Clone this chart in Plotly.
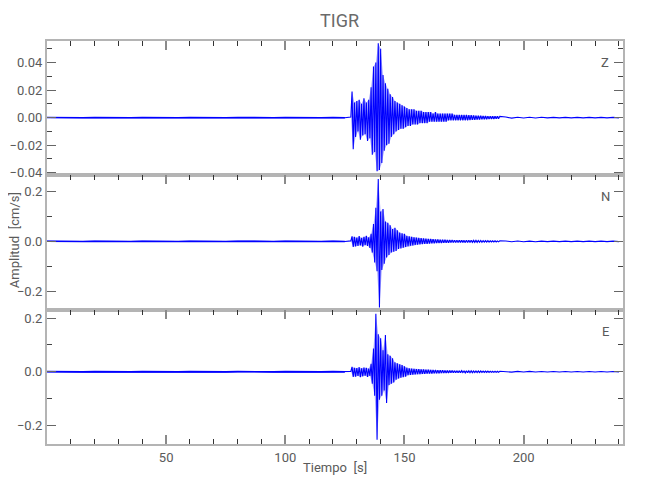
import numpy as np
import plotly.graph_objects as go
from plotly.subplots import make_subplots

station = "TIGR"
components = ["Z", "N", "E"]
x_title = "Tiempo\u2002[s]"
y_title = "Amplitud\u2002[cm/s]"

# sampling grids (seconds)
pre_t0, pre_dt = 0.0, 5.0
evt_t0, evt_dt = 127.5, 0.5
post_t0, post_dt = 192.5, 2.5

# ---- Z component (cm/s) ----
z_pre = [0.0001, -0.0001, 0.0001, -0.0001, 0.0001, -0.0001, 0.0001, -0.0001, 0.0001, -0.0001,
         0.0001, -0.0001, 0.0001, -0.0001, 0.0001, -0.0001, 0.0001, -0.0001, 0.0001, -0.0001,
         0.0001, -0.0001, 0.0001, -0.0001, 0.0001, -0.0001]
z_evt = [0.0005, 0.019, -0.023, 0.011, -0.014, 0.012, -0.010, 0.013, -0.016, 0.010,
         -0.013, 0.014, -0.012, 0.011, -0.017, 0.013, -0.015, 0.022, -0.027, 0.037,
         -0.025, 0.040, -0.039, 0.054, -0.038, 0.050, -0.033, 0.031, -0.024, 0.025,
         -0.020, 0.021, -0.019, 0.017, -0.014, 0.015, -0.012, 0.012, -0.010, 0.011,
         -0.009, 0.010, -0.008, 0.009, -0.008, 0.008, -0.007, 0.007, -0.006, 0.006,
         -0.006, 0.006, -0.005, 0.006, -0.005, 0.005, -0.005, 0.005, -0.004, 0.005,
         -0.004, 0.004, -0.004, 0.004, -0.004, 0.004, -0.003, 0.004, -0.003, 0.003,
         -0.003, 0.004, -0.003, 0.003, -0.003, 0.003, -0.003, 0.003, -0.003, 0.003,
         -0.003, 0.003, -0.002, 0.003, -0.002, 0.003, -0.002, 0.002, -0.002, 0.002,
         -0.002, 0.002, -0.002, 0.002, -0.002, 0.002,
         -0.002, 0.002, -0.002, 0.0018, -0.0018, 0.0018, -0.0016, 0.0016, -0.0016, 0.0015,
         -0.0015, 0.0014, -0.0014, 0.0014, -0.0013, 0.0013, -0.0012, 0.0012, -0.0012, 0.0011,
         -0.0011, 0.0011, -0.0010, 0.0010, -0.0010, 0.0010, -0.0009, 0.0009, -0.0009, 0.0009]
z_post = [0.0004, -0.0004, 0.0003, -0.0003, 0.0003, -0.0003, 0.0003, -0.0002, 0.0002, -0.0002,
          0.0002, -0.0002, 0.0002, -0.0002, 0.0002, -0.0002, 0.0002, -0.0002, 0.0002, -0.0002]

# ---- N component (cm/s) ----
n_pre = [0.0006, -0.0006, 0.0004, -0.0006, 0.0006, -0.0004, 0.0006, -0.0006, 0.0004, -0.0006,
         0.0006, -0.0006, 0.0004, -0.0006, 0.0006, -0.0004, 0.0006, -0.0006, 0.0006, -0.0004,
         0.0006, -0.0006, 0.0004, -0.0006, 0.0006, -0.0006]
n_evt = [0.002, 0.020, -0.022, 0.018, -0.020, 0.015, -0.018, 0.021, -0.016, 0.014,
         -0.021, 0.018, -0.015, 0.022, -0.018, 0.016, -0.026, 0.030, -0.045, 0.070,
         -0.085, 0.135, -0.120, 0.250, -0.265, 0.120, -0.115, 0.130, -0.090, 0.080,
         -0.065, 0.075, -0.055, 0.065, -0.045, 0.050, -0.042, 0.055, -0.038, 0.045,
         -0.030, 0.035, -0.028, 0.032, -0.025, 0.030, -0.022, 0.022, -0.019, 0.020,
         -0.017, 0.018, -0.016, 0.016, -0.014, 0.015, -0.013, 0.014, -0.012, 0.013,
         -0.011, 0.012, -0.010, 0.011, -0.010, 0.010, -0.009, 0.010, -0.008, 0.009,
         -0.008, 0.008, -0.007, 0.008, -0.007, 0.007, -0.007, 0.007, -0.006, 0.007,
         -0.006, 0.006, -0.006, 0.006, -0.005, 0.006, -0.005, 0.005, -0.005, 0.005,
         -0.005, 0.005, -0.004, 0.005, -0.004, 0.004,
         -0.005, 0.005, -0.005, 0.0045, -0.0045, 0.0045, -0.004, 0.004, -0.004, 0.004,
         -0.004, 0.0035, -0.0035, 0.0035, -0.0035, 0.003, -0.003, 0.003, -0.003, 0.003,
         -0.003, 0.0025, -0.0025, 0.0025, -0.0025, 0.0025, -0.0025, 0.002, -0.002, 0.002]
n_post = [0.0015, -0.0015, 0.0015, -0.0012, 0.0012, -0.0012, 0.0010, -0.0010, 0.0010, -0.0010,
          0.0010, -0.0010, 0.0010, -0.0010, 0.0010, -0.0010, 0.0010, -0.0010, 0.0010, -0.0010]

# ---- E component (cm/s) ----
e_pre = [0.0006, -0.0006, 0.0006, -0.0004, 0.0006, -0.0006, 0.0004, -0.0006, 0.0006, -0.0006,
         0.0004, -0.0006, 0.0006, -0.0004, 0.0006, -0.0006, 0.0006, -0.0004, 0.0006, -0.0006,
         0.0004, -0.0006, 0.0006, -0.0006, 0.0004, -0.0006]
e_evt = [0.001, 0.018, -0.019, 0.015, -0.018, 0.014, -0.016, 0.017, -0.020, 0.013,
         -0.017, 0.016, -0.015, 0.015, -0.019, 0.012, -0.016, 0.030, -0.045, 0.087,
         -0.090, 0.217, -0.254, 0.140, -0.105, 0.125, -0.090, 0.080, -0.070, 0.137,
         -0.117, 0.065, -0.050, 0.060, -0.045, 0.050, -0.040, 0.035, -0.030, 0.032,
         -0.025, 0.028, -0.022, 0.025, -0.020, 0.020, -0.018, 0.015, -0.013, 0.013,
         -0.012, 0.012, -0.011, 0.011, -0.010, 0.010, -0.009, 0.010, -0.009, 0.009,
         -0.008, 0.009, -0.008, 0.008, -0.007, 0.008, -0.007, 0.007, -0.007, 0.007,
         -0.006, 0.007, -0.006, 0.006, -0.006, 0.006, -0.005, 0.006, -0.005, 0.005,
         -0.005, 0.005, -0.005, 0.005, -0.004, 0.005, -0.004, 0.004, -0.004, 0.004,
         -0.004, 0.004, -0.004, 0.004, -0.003, 0.003,
         -0.004, 0.004, -0.004, 0.0035, -0.0035, 0.0035, -0.0035, 0.003, -0.003, 0.003,
         -0.003, 0.003, -0.003, 0.003, -0.0025, 0.0025, -0.0025, 0.0025, -0.0025, 0.0025,
         -0.0025, 0.002, -0.002, 0.002, -0.002, 0.002, -0.002, 0.002, -0.002, 0.002]
e_post = [0.0015, -0.0015, 0.0015, -0.0012, 0.0012, -0.0012, 0.0010, -0.0010, 0.0010, -0.0010,
          0.0010, -0.0010, 0.0010, -0.0010, 0.0010, -0.0010, 0.0010, -0.0010, 0.0010, -0.0010]

# axis settings
x_range = [0, 241.7]
x_tickvals = [50, 100, 150, 200]
y_ranges = [[-0.0419, 0.0556], [-0.274, 0.265], [-0.270, 0.232]]
y_dticks = [0.02, 0.2, 0.2]
y_minor = [0.01, 0.1, 0.1]
y_formats = [".2f", ".1f", ".1f"]

series = [(z_pre, z_evt, z_post), (n_pre, n_evt, n_post), (e_pre, e_evt, e_post)]

FONT = "Roboto, Liberation Sans Narrow, sans-serif"
TXT = "#5a5a5a"
AXC = "#b4b4b4"
BLUE = "#0000ff"

fig = make_subplots(rows=3, cols=1, shared_xaxes=True, vertical_spacing=0)

for r, (pre, evt, post) in enumerate(series, start=1):
    t_pre = pre_t0 + pre_dt * np.arange(len(pre))
    t_evt = evt_t0 + evt_dt * np.arange(len(evt))
    t_post = post_t0 + post_dt * np.arange(len(post))
    v_evt = np.array(evt)
    pos = v_evt > 0
    neg = v_evt < 0
    # lighter band between the negative and the positive peaks
    fig.add_trace(go.Scatter(x=t_evt[neg], y=v_evt[neg], mode="lines",
                             line=dict(width=0, color="rgba(0,0,255,0)"),
                             showlegend=False, hoverinfo="skip"), row=r, col=1)
    fig.add_trace(go.Scatter(x=t_evt[pos], y=v_evt[pos], mode="lines",
                             line=dict(width=0, color="rgba(0,0,255,0)"),
                             fill="tonexty", fillcolor="rgba(40,40,255,0.38)",
                             showlegend=False, hoverinfo="skip"), row=r, col=1)
    t_all = np.concatenate([t_pre, t_evt, t_post])
    v_all = np.concatenate([pre, evt, post])
    fig.add_trace(go.Scatter(x=t_all, y=v_all, mode="lines",
                             line=dict(color=BLUE, width=1.1),
                             showlegend=False, hoverinfo="skip"), row=r, col=1)
    fig.add_trace(go.Scatter(x=t_pre, y=pre, mode="lines",
                             line=dict(color=BLUE, width=1.6),
                             showlegend=False, hoverinfo="skip"), row=r, col=1)

for r in range(1, 4):
    last = (r == 3)
    fig.update_xaxes(
        range=x_range, showgrid=False, zeroline=False, automargin=False,
        showline=True, linecolor=AXC, linewidth=2,
        mirror="ticks" if last else True,
        side="bottom" if last else "top",
        ticks="inside", ticklen=9, tickwidth=1.5, tickcolor="#8a8a8a",
        tickvals=x_tickvals, showticklabels=last,
        tickfont=dict(family=FONT, size=13, color=TXT),
        minor=dict(dtick=10, tick0=0, ticks="inside", ticklen=5,
                   tickwidth=1, tickcolor="#333333"),
        row=r, col=1)
    i = r - 1
    fig.update_yaxes(
        range=y_ranges[i], showgrid=False, zeroline=False, automargin=False,
        showline=True, linecolor=AXC, linewidth=2, mirror="ticks",
        ticks="inside", ticklen=9, tickwidth=1, tickcolor="#666666",
        dtick=y_dticks[i], tick0=0, tickformat=y_formats[i],
        tickfont=dict(family=FONT, size=13, color=TXT),
        minor=dict(dtick=y_minor[i], tick0=0, ticks="inside", ticklen=5,
                   tickwidth=1, tickcolor="#444444"),
        row=r, col=1)

ann = []
yrefs = ["y domain", "y2 domain", "y3 domain"]
xrefs = ["x domain", "x2 domain", "x3 domain"]
for i, c in enumerate(components):
    ann.append(dict(text=c, xref=xrefs[i], yref=yrefs[i], x=0.969, y=0.84,
                    showarrow=False, xanchor="center", yanchor="middle",
                    font=dict(family=FONT, size=13, color=TXT)))
ann.append(dict(text=station, xref="paper", yref="paper", x=0.508, y=1.052,
                showarrow=False, xanchor="center", yanchor="middle",
                font=dict(family=FONT, size=18, color="#6a6a6a")))
ann.append(dict(text=x_title, xref="paper", yref="paper", x=0.5, y=-0.0588,
                showarrow=False, xanchor="center", yanchor="middle",
                font=dict(family=FONT, size=13, color=TXT)))
ann.append(dict(text=y_title, xref="paper", yref="paper", x=-0.0565, y=0.507,
                showarrow=False, xanchor="center", yanchor="middle", textangle=-90,
                font=dict(family=FONT, size=13, color=TXT)))

# page body adds an 8 px offset, so the figure is sized to fit the window
fig.update_layout(
    width=642, height=492,
    margin=dict(l=39, r=27, t=33, b=56),
    paper_bgcolor="white", plot_bgcolor="white",
    annotations=ann,
    showlegend=False,
)

fig.write_html("out.html")
